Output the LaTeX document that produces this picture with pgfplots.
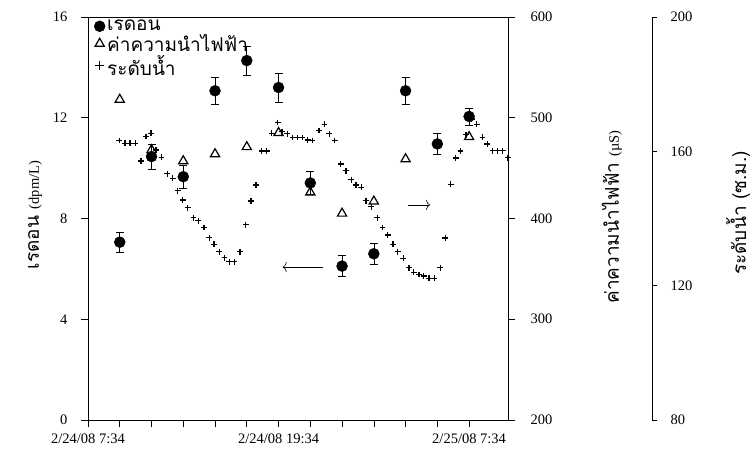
\documentclass[border=0pt]{standalone}
\usepackage{fontspec}
\setmainfont{Liberation Serif}
\newfontfamily\thaifont[Script=Thai]{Loma}
\usepackage{pgfplots}
\usetikzlibrary{arrows.meta}
\pgfplotsset{compat=1.18}
\newcommand\tfont{\fontsize{14.5}{17}\selectfont}
\newcommand\thfont{\thaifont\fontsize{19}{21}\selectfont}

\pgfplotstableread{
h lev
1.97 163.2
2.33 162.4
2.65 162.4
2.99 162.4
3.34 157.1
3.65 164.4
3.97 165.4
4.28 160.4
4.63 158.2
4.99 153.3
5.34 152.0
5.65 148.3
5.97 145.5
6.28 143.2
6.65 140.2
6.95 139.3
7.31 137.3
7.64 134.3
7.94 132.3
8.27 130.1
8.59 128.3
8.90 127.1
9.22 127.1
9.57 130.1
9.93 138.1
10.27 145.2
10.58 150.0
10.94 160.1
11.26 160.1
11.57 165.4
11.95 168.6
12.22 165.8
12.54 165.2
12.88 164.1
13.20 164.1
13.51 164.1
13.83 163.4
14.14 163.2
14.55 166.2
14.89 168.1
15.20 165.2
15.54 163.2
15.92 156.2
16.25 154.2
16.57 151.5
16.88 150.0
17.20 149.3
17.51 145.3
17.83 143.5
18.22 140.2
18.55 137.3
18.87 135.1
19.21 132.3
19.51 130.1
19.86 128.2
20.21 125.3
20.52 124.0
20.84 123.3
21.15 122.9
21.48 122.2
21.80 122.2
22.19 125.3
22.49 134.2
22.85 150.2
23.15 158.0
23.46 160.1
23.81 164.9
24.16 169.6
24.49 168.1
24.84 164.2
25.15 162.2
25.49 160.2
25.81 160.2
26.12 160.2
26.44 158.1
}\levtable

\pgfplotstableread{
h ec
2 518
4 468
6 457
8 464
10 471
12 485
14 426
16 405
18 417
20 459
24 481
}\ectable

\pgfplotstableread{
h rn err
2 7.06 0.40
4 10.46 0.50
6 9.66 0.45
8 13.07 0.55
10 14.27 0.58
12 13.20 0.58
14 9.41 0.45
16 6.11 0.42
18 6.60 0.43
20 13.07 0.55
22 10.96 0.42
24 12.05 0.34
}\rntable

\pgfplotsset{base/.style={
  scale only axis, width=420pt, height=403pt,
  xmin=0, xmax=26.45,
  anchor=south west,
  tick align=outside, major tick length=7pt,
  every tick/.style={black, line width=0.6pt},
  axis line style={line width=0.6pt},
  /pgf/number format/assume math mode=true,
  ticklabel style={font=\tfont},
  clip=false,
}}

\begin{document}
\begin{tikzpicture}
% conductivity axis (right)
\begin{axis}[base, at={(0,0)},
  axis x line=none, axis y line*=right,
  ymin=200, ymax=600, ytick={200,300,...,600},
  yticklabel style={xshift=12pt}]
\addplot[only marks, mark=triangle, mark size=5.3pt, line width=1.2pt, black] table[x=h,y=ec]{\ectable};
\end{axis}
% water level data
\begin{axis}[base, at={(0,0)}, hide x axis, hide y axis, ymin=80, ymax=200]
\addplot[only marks, mark=+, mark size=2.9pt, line width=1.2pt, black] table[x=h,y=lev]{\levtable};
\end{axis}
% far right water level axis
\begin{axis}[base, at={(144pt,0)},
  axis x line=none, axis y line*=right,
  ymin=80, ymax=200, ytick={80,120,160,200}, major tick length=5pt,
  yticklabel style={xshift=10pt}]
\addplot[draw=none] coordinates {(1,100)};
\end{axis}
% radon axis (front)
\begin{axis}[base, at={(0,0)},
  ymin=0, ymax=16, ytick={0,4,...,16},
  tick pos=left,
  xtick={0,2,...,24},
  xticklabels={2/24/08 7:34,,,,,,2/24/08 19:34,,,,,,2/25/08 7:34},
  xticklabel style={yshift=-3pt},
  yticklabel style={xshift=-10pt},
  legend style={draw=none, fill=none, at={(0,1)}, anchor=north west,
    xshift=5pt, yshift=0pt, font=\thfont, row sep=-2pt, inner sep=1pt,
    nodes={inner xsep=2pt}},
  legend cell align=left,
  legend image code/.code={\draw[#1] plot coordinates {(0.2cm,0cm)};}]
\addlegendimage{only marks, mark=*, mark size=5.5pt, black}
\addlegendentry{เรดอน}
\addlegendimage{only marks, mark=triangle, mark size=5.3pt, line width=1.2pt, black}
\addlegendentry{ค่าความนำไฟฟ้า}
\addlegendimage{only marks, mark=+, mark size=4.5pt, line width=1.2pt, black}
\addlegendentry{ระดับน้ำ}
\addplot[only marks, mark=*, mark size=5.5pt, black, forget plot,
  error bars/.cd, y dir=both, y explicit,
  error mark options={rotate=90, mark size=4pt, line width=0.6pt, black},
  error bar style={line width=0.6pt, black}]
  table[x=h, y=rn, y error=err]{\rntable};
\draw[-{To[length=4pt,width=10pt]}, line width=0.6pt] (axis cs:14.82,6.07) -- (axis cs:12.26,6.07);
\draw[-{To[length=4pt,width=10pt]}, line width=0.6pt] (axis cs:20.14,8.54) -- (axis cs:21.54,8.54);
\end{axis}
\node[rotate=90, font=\thfont] at (-53pt,205pt) {เรดอน {\rmfamily\fontsize{14.5}{16}\selectfont (dpm/L)}};
\node[rotate=90, font=\thfont] at (524pt,203pt) {ค่าความนำไฟฟ้า {\rmfamily\fontsize{14.5}{16}\selectfont (µS)}};
\node[rotate=90, font=\thfont] at (650pt,207pt) {ระดับน้ำ (ซ.ม.)};
\pgfresetboundingbox
\useasboundingbox (-88pt,-50pt) rectangle (667pt,420pt);
\end{tikzpicture}
\end{document}
